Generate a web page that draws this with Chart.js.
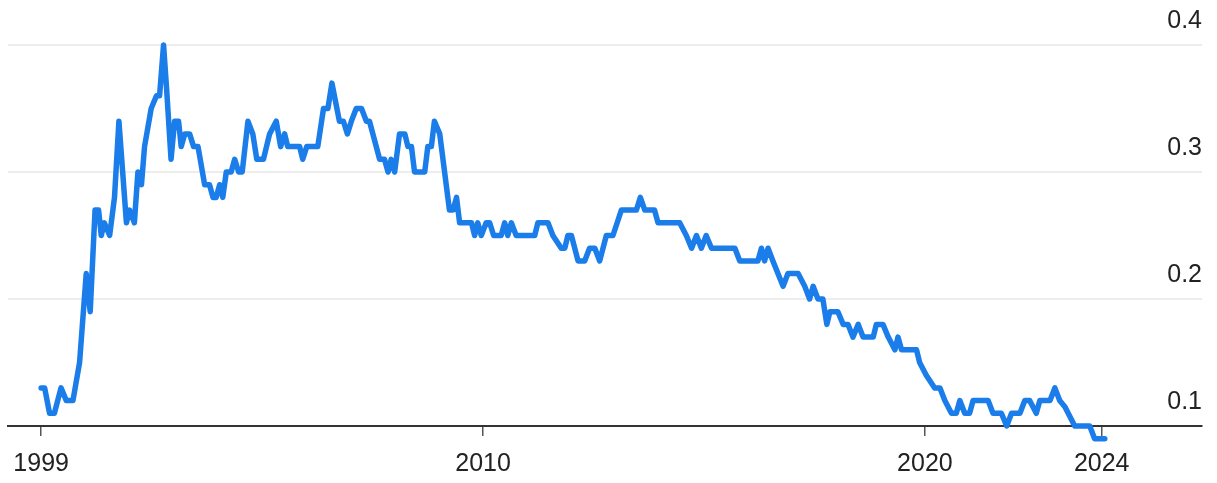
<!DOCTYPE html>
<html>
<head>
<meta charset="utf-8">
<title>Ratio since 1999</title>
<script src="https://cdn.jsdelivr.net/npm/chart.js@4/dist/chart.umd.min.js"></script>
<style>
    html, body { margin: 0; padding: 0; background: #fff; }
    #chart { display: block; }
</style>
</head>
<body>
<canvas id="chart" width="1217" height="483"></canvas>
<script>
// Series, in decimal years
const dates = [
    2000.00, 2000.08, 2000.19, 2000.30, 2000.45, 2000.57, 2000.72, 2000.87, 2001.02, 2001.11,
    2001.22, 2001.30, 2001.36, 2001.43, 2001.55, 2001.66, 2001.76, 2001.93, 2002.00, 2002.11,
    2002.19, 2002.27, 2002.34, 2002.49, 2002.61, 2002.68, 2002.77, 2002.84, 2002.94, 2003.02,
    2003.11, 2003.17, 2003.25, 2003.36, 2003.45, 2003.55, 2003.70, 2003.81, 2003.89, 2003.96,
    2004.04, 2004.11, 2004.19, 2004.30, 2004.38, 2004.47, 2004.55, 2004.68, 2004.79, 2004.88,
    2005.03, 2005.17, 2005.32, 2005.42, 2005.51, 2005.58, 2005.85, 2005.92, 2006.01, 2006.26,
    2006.39, 2006.49, 2006.58, 2006.75, 2006.84, 2006.93, 2007.02, 2007.13, 2007.25, 2007.36,
    2007.43, 2007.66, 2007.77, 2007.85, 2007.92, 2008.00, 2008.11, 2008.23, 2008.30, 2008.38,
    2008.45, 2008.68, 2008.75, 2008.83, 2008.90, 2009.02, 2009.24, 2009.32, 2009.40, 2009.47,
    2009.74, 2009.81, 2009.88, 2009.96, 2010.07, 2010.15, 2010.24, 2010.41, 2010.49, 2010.56,
    2010.64, 2010.75, 2011.17, 2011.24, 2011.47, 2011.58, 2011.77, 2011.85, 2011.92, 2012.00,
    2012.15, 2012.30, 2012.41, 2012.53, 2012.64, 2012.79, 2012.94, 2013.13, 2013.47, 2013.56,
    2013.66, 2013.88, 2013.96, 2014.45, 2014.60, 2014.72, 2014.83, 2014.94, 2015.05, 2015.17,
    2015.70, 2015.81, 2016.22, 2016.30, 2016.37, 2016.45, 2016.56, 2016.79, 2016.90, 2017.13,
    2017.28, 2017.39, 2017.47, 2017.58, 2017.69, 2017.78, 2017.85, 2018.03, 2018.15, 2018.26,
    2018.37, 2018.49, 2018.60, 2018.83, 2018.90, 2019.05, 2019.17, 2019.32, 2019.39, 2019.47,
    2019.81, 2019.88, 2020.03, 2020.22, 2020.34, 2020.45, 2020.60, 2020.71, 2020.79, 2020.90,
    2021.01, 2021.09, 2021.43, 2021.54, 2021.73, 2021.85, 2021.96, 2022.15, 2022.26, 2022.37,
    2022.52, 2022.60, 2022.83, 2022.94, 2023.05, 2023.17, 2023.39, 2023.73, 2023.84, 2024.07
];

const values = [
    0.13, 0.13, 0.11, 0.11, 0.13, 0.12, 0.12, 0.15, 0.22, 0.19,
    0.27, 0.27, 0.25, 0.26, 0.25, 0.28, 0.34, 0.26, 0.27, 0.26,
    0.30, 0.29, 0.32, 0.35, 0.36, 0.36, 0.40, 0.365, 0.31, 0.34,
    0.34, 0.32, 0.33, 0.33, 0.32, 0.32, 0.29, 0.29, 0.28, 0.28,
    0.29, 0.28, 0.30, 0.30, 0.31, 0.30, 0.30, 0.34, 0.33, 0.31,
    0.31, 0.33, 0.34, 0.32, 0.33, 0.32, 0.32, 0.31, 0.32, 0.32,
    0.35, 0.35, 0.37, 0.34, 0.34, 0.33, 0.34, 0.35, 0.35, 0.34,
    0.34, 0.31, 0.31, 0.30, 0.31, 0.30, 0.33, 0.33, 0.32, 0.32,
    0.30, 0.30, 0.32, 0.32, 0.34, 0.33, 0.27, 0.27, 0.28, 0.26,
    0.26, 0.25, 0.26, 0.25, 0.26, 0.26, 0.25, 0.25, 0.26, 0.25,
    0.26, 0.25, 0.25, 0.26, 0.26, 0.25, 0.24, 0.24, 0.25, 0.25,
    0.23, 0.23, 0.24, 0.24, 0.23, 0.25, 0.25, 0.27, 0.27, 0.28,
    0.27, 0.27, 0.26, 0.26, 0.25, 0.24, 0.25, 0.24, 0.25, 0.24,
    0.24, 0.23, 0.23, 0.24, 0.23, 0.24, 0.23, 0.21, 0.22, 0.22,
    0.21, 0.20, 0.21, 0.20, 0.20, 0.18, 0.19, 0.19, 0.18, 0.18,
    0.17, 0.18, 0.17, 0.17, 0.18, 0.18, 0.17, 0.16, 0.17, 0.16,
    0.16, 0.15, 0.14, 0.13, 0.13, 0.12, 0.11, 0.11, 0.12, 0.11,
    0.11, 0.12, 0.12, 0.11, 0.11, 0.10, 0.11, 0.11, 0.12, 0.12,
    0.11, 0.12, 0.12, 0.13, 0.12, 0.115, 0.10, 0.10, 0.09, 0.09
];

// Year axis ticks; the first one sits where the series begins
const xTickLabels = ['1999', '2010', '2020', '2024'];
const xTickValues = [dates[0], 2010, 2020, 2024];

// Value axis ticks
const yTickValues = [0.1, 0.2, 0.3, 0.4];

const LINE_BLUE = '#1a7de9';
const TEXT_COLOR = '#222';
const FONT = { family: "'Liberation Sans', Arial, sans-serif", size: 25 };

function buildPoints() {
    return dates.map((d, i) => ({ x: d, y: values[i] }));
}

function renderChart() {
    const ctx = document.getElementById('chart').getContext('2d');

    return new Chart(ctx, {
        type: 'line',
        data: {
            datasets: [{
                data: buildPoints(),
                borderColor: LINE_BLUE,
                borderWidth: 5.5,
                borderJoinStyle: 'round',
                borderCapStyle: 'round',
                pointRadius: 0,
                tension: 0,
                fill: false,
                clip: false
            }]
        },
        options: {
            responsive: false,
            animation: false,
            devicePixelRatio: 1,
            layout: {
                padding: { top: 45, left: 8, right: 15, bottom: 0 }
            },
            plugins: {
                legend: { display: false },
                tooltip: { enabled: false }
            },
            scales: {
                x: {
                    type: 'linear',
                    min: 1999.25,
                    max: 2026.27,
                    afterBuildTicks: (scale) => {
                        scale.ticks = xTickValues.map(v => ({ value: v }));
                    },
                    afterFit: (scale) => {
                        scale.height = 57;
                    },
                    ticks: {
                        autoSkip: false,
                        maxRotation: 0,
                        padding: 13,
                        color: TEXT_COLOR,
                        font: FONT,
                        callback: (value, index) => xTickLabels[index]
                    },
                    grid: {
                        display: true,
                        drawOnChartArea: false,
                        drawTicks: true,
                        tickLength: 10,
                        color: '#555',
                        lineWidth: 1.5
                    },
                    border: {
                        display: true,
                        color: '#333',
                        width: 2
                    }
                },
                y: {
                    type: 'linear',
                    position: 'right',
                    min: 0.1,
                    max: 0.4,
                    afterBuildTicks: (scale) => {
                        scale.ticks = yTickValues.map(v => ({ value: v }));
                    },
                    ticks: {
                        mirror: true,
                        padding: 0,
                        labelOffset: -24,
                        color: TEXT_COLOR,
                        font: FONT,
                        callback: (value) => value.toFixed(1)
                    },
                    grid: {
                        drawTicks: false,
                        lineWidth: 2,
                        // the 0.1 line is covered by the x axis border
                        color: (c) => (c.tick && c.tick.value <= 0.1 ? 'rgba(0,0,0,0)' : '#ededed')
                    },
                    border: { display: false }
                }
            }
        }
    });
}

renderChart();
</script>
</body>
</html>
